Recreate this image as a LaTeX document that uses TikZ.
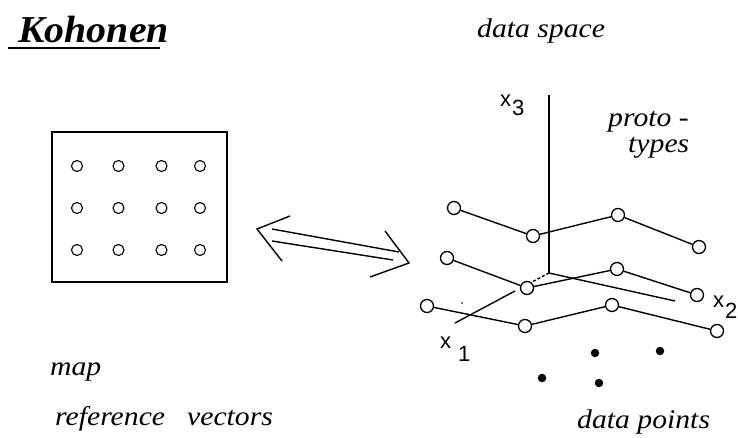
\documentclass[tikz,border=0pt]{standalone}
\usepackage{fontspec}
\setmainfont{Liberation Serif}
\newfontfamily\axfont{Liberation Sans}
\begin{document}
\begin{tikzpicture}[x=1pt,y=-1pt,
  mapdot/.style={circle,draw,line width=1.1pt,minimum size=11pt,inner sep=0},
  proto/.style={circle,draw,line width=1.3pt,minimum size=13pt,inner sep=0},
  datadot/.style={circle,fill,minimum size=8.5pt,inner sep=0},
  link/.style={line width=1.4pt},
  axisline/.style={line width=1.4pt},
  lbl/.style={inner sep=0,anchor=base west,font=\fontsize{27}{32}\selectfont\itshape},
  axlbl/.style={inner sep=0,anchor=base west,font=\axfont\fontsize{22}{26}\selectfont}]
\useasboundingbox (0,0) rectangle (738,438);

% title
\node[inner sep=0,anchor=base west,font=\fontsize{38}{44}\selectfont\bfseries\itshape] (title) at (18,43) {\scalebox{1.05}[1]{Kohonen}};
\draw[line width=2.5pt] (8,48) -- (160,48);

% map box
\draw[line width=1.6pt] (52,132) rectangle (227,282);
\foreach \r/\yy in {1/166,2/208,3/250}
  \foreach \c/\xx in {1/77,2/118.5,3/161.5,4/200}
    \node[mapdot] (m\r\c) at (\xx,\yy) {};

% double arrow
\coordinate (aL) at (257,229);
\coordinate (aR) at (409,263);
\coordinate (aL1) at (290,216); \coordinate (aL2) at (282,261);
\coordinate (aR1) at (385,231); \coordinate (aR2) at (370,277);
\coordinate (s1) at (272,229); \coordinate (e1) at (399,252);
\coordinate (s2) at (272,241); \coordinate (e2) at (393,260);
\draw[link] (aL1) -- (aL) -- (aL2);
\draw[link] (aR1) -- (aR) -- (aR2);
\draw[link] (s1) -- (e1);
\draw[link] (s2) -- (e2);

% axes
\coordinate (O) at (549,273);
\coordinate (x3end) at (549,95);
\coordinate (x2end) at (675,301);
\coordinate (x1mid) at (532,282);
\coordinate (x1start) at (515,291);
\coordinate (x1end) at (455,323);
\draw[axisline] (O) -- (x3end);
\draw[axisline] (O) -- (x2end);
\draw[axisline,dash pattern=on 3pt off 2pt] (O) -- (x1mid);
\draw[axisline] (x1start) -- (x1end);
\fill (462,303) circle (0.8);

% prototypes
\node[proto] (pa1) at (454,208) {};
\node[proto] (pa2) at (533,236) {};
\node[proto] (pa3) at (618,215) {};
\node[proto] (pa4) at (699,247) {};
\node[proto] (pb1) at (447,258) {};
\node[proto] (pb2) at (527,288) {};
\node[proto] (pb3) at (617,269) {};
\node[proto] (pb4) at (697,295) {};
\node[proto] (pc1) at (427,306) {};
\node[proto] (pc2) at (525,326) {};
\node[proto] (pc3) at (612,305) {};
\node[proto] (pc4) at (717,331) {};
\foreach \r in {a,b,c}{
  \draw[link] (p\r1) -- (p\r2);
  \draw[link] (p\r2) -- (p\r3);
  \draw[link] (p\r3) -- (p\r4);
}

% data points
\node[datadot] (d1) at (595,353) {};
\node[datadot] (d2) at (660,351) {};
\node[datadot] (d3) at (542,378) {};
\node[datadot] (d4) at (599,383) {};

% axis labels
\node[axlbl] (x3) at (500,107) {x};
\node[axlbl] (x3s) at (512,116) {3};
\node[axlbl] (x2) at (713,307) {x};
\node[axlbl] (x2s) at (725,318) {2};
\node[axlbl] (x1) at (440,348) {x};
\node[axlbl] (x1s) at (458,361) {1};

% text labels
\node[lbl] (ds) at (477,38) {\scalebox{1.1}[1]{data space}};
\node[lbl] (pr1) at (608,127) {\scalebox{1.1}[1]{proto -}};
\node[lbl] (pr2) at (628,153) {\scalebox{1.1}[1]{types}};
\node[lbl] (mp) at (50,375) {\scalebox{1.1}[1]{map}};
\node[lbl] (rv) at (55,425) {\scalebox{1.1}[1]{reference\hspace{20pt}vectors}};
\node[lbl] (dp) at (577,428) {\scalebox{1.1}[1]{data points}};
\end{tikzpicture}
\end{document}
